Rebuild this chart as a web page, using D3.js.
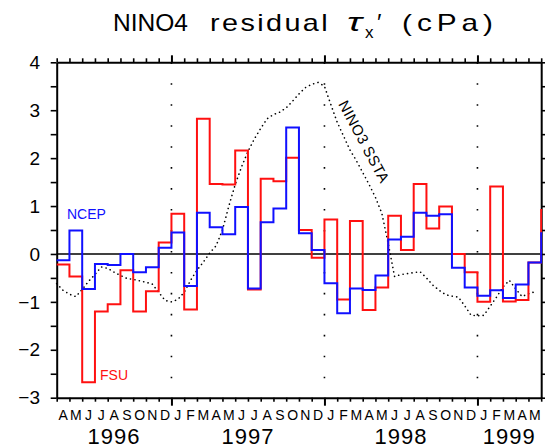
<!DOCTYPE html>
<html>
<head>
<meta charset="utf-8">
<script src="https://cdn.jsdelivr.net/npm/d3@7"></script>
<style>
  body { margin: 0; background: #fff; }
  svg { display: block; font-family: "Liberation Sans", Arial, sans-serif; }
</style>
</head>
<body>
<div id="main"></div>
<script>
// month letters, Apr 1996 .. May 1999
const monthLabels = ['A','M','J','J','A','S','O','N','D',
  'J','F','M','A','M','J','J','A','S','O','N','D',
  'J','F','M','A','M','J','J','A','S','O','N','D',
  'J','F','M','A','M'];
const years = ['1996', '1997', '1998', '1999'];
const yearStart = [0, 9, 21, 33];   // month index where each year begins
const yearEnd = [9, 21, 33, 38];

// monthly residual tau_x (cPa), Apr 1996 .. Jun 1999
const fsu = [-0.22, -0.47, -2.68, -1.20, -1.05, -0.34, -1.20, -0.78, 0.24,
  0.84, -1.16, 2.82, 1.46, 1.45, 2.16, -0.74, 1.57, 1.52, 2.01, 0.50, -0.08,
  0.72, -0.95, 0.69, -1.17, -0.70, 0.80, 0.08, 1.46, 0.53, 0.99, 0.00, -0.38,
  -1.00, 1.41, -0.99, -0.96, -0.18, 0.92];
const ncep = [-0.13, 0.49, -0.73, -0.21, -0.23, 0.00, -0.38, -0.28, 0.13,
  0.45, -0.67, 0.86, 0.56, 0.41, 0.98, -0.72, 0.66, 0.95, 2.64, 0.43, 0.08,
  -0.61, -1.24, -0.72, -0.75, -0.45, 0.30, 0.36, 0.86, 0.80, 0.83, -0.29, -0.70,
  -0.87, -0.76, -0.92, -0.64, -0.18, 0.43];

// NINO3 SSTA, every half month from 1 Apr 1996
const nino3 = [-0.62, -0.76, -0.84, -0.89, -0.74, -0.57, -0.43, -0.27, -0.30, -0.38,
  -0.45, -0.51, -0.53, -0.56, -0.59, -0.63, -0.80, -0.97, -1.00, -0.95,
  -0.80, -0.55, -0.34, -0.17, 0.02, 0.17, 0.50, 1.00, 1.45, 1.82,
  2.14, 2.40, 2.62, 2.82, 2.91, 2.96, 3.05, 3.19, 3.34, 3.47,
  3.54, 3.58, 3.50, 3.12, 2.75, 2.46, 2.17, 1.95, 1.70, 1.45,
  1.18, 0.85, 0.22, -0.47, -0.43, -0.41, -0.39, -0.37, -0.50, -0.65,
  -0.76, -0.85, -0.88, -0.90, -1.08, -1.28, -1.29, -1.28, -1.09, -0.90,
  -0.69, -0.55, -0.73, -0.89, -0.83, -0.79];

const w = 545, h = 448;
const padL = 56.7, padR = 541.2, padT = 62.3, padB = 397.7;

const svg = d3.select('#main').append('svg')
  .attr('width', w).attr('height', h);

const x = d3.scaleLinear().domain([0, 38]).range([padL, padR]);
const y = d3.scaleLinear().domain([-3, 4]).range([padB, padT]);

// title, word by word (the original font is wide)
const titleWords = [
  { t: 'NINO4', x: 113, len: 75, ls: 0 },
  { t: 'residual', x: 210, len: 120, ls: 2 },
  { t: '(cPa)', x: 402, len: 96, ls: 4 }
];
svg.selectAll('.tw')
  .data(titleWords)
  .enter().append('text')
  .attr('x', d => d.x).attr('y', 30.5)
  .attr('font-size', 24)
  .attr('letter-spacing', d => d.ls)
  .attr('textLength', d => d.len)
  .attr('lengthAdjust', 'spacingAndGlyphs')
  .text(d => d.t);
svg.append('text').attr('x', 347).attr('y', 30.5)
  .attr('font-size', 25).attr('font-style', 'italic')
  .attr('textLength', 15).attr('lengthAdjust', 'spacingAndGlyphs')
  .text('τ');
svg.append('text').attr('x', 365).attr('y', 38)
  .attr('font-size', 17)
  .text('x');
svg.append('text').attr('x', 377).attr('y', 31)
  .attr('font-size', 24)
  .text('′');

// dotted January lines
svg.selectAll('.jan')
  .data(yearStart.slice(1))
  .enter().append('line')
  .attr('x1', d => x(d)).attr('x2', d => x(d))
  .attr('y1', padT).attr('y2', padB)
  .attr('stroke', '#000').attr('stroke-width', 1.6)
  .attr('stroke-dasharray', '1.6 19.36');

// zero line
svg.append('line')
  .attr('x1', padL).attr('x2', padR)
  .attr('y1', y(0)).attr('y2', y(0))
  .attr('stroke', '#000').attr('stroke-width', 1.5);

// NINO3 SSTA dotted curve
const ninoLine = d3.line()
  .x((d, i) => x(i * 0.5))
  .y(d => y(d));
svg.append('path')
  .datum(nino3)
  .attr('d', ninoLine)
  .attr('fill', 'none')
  .attr('stroke', '#000')
  .attr('stroke-width', 1.6)
  .attr('stroke-linecap', 'round')
  .attr('stroke-dasharray', '0.1 4.4');

svg.append('text')
  .attr('transform', 'translate(338,104) rotate(62)')
  .attr('font-size', 15)
  .attr('letter-spacing', 0.5)
  .attr('textLength', 91)
  .attr('lengthAdjust', 'spacingAndGlyphs')
  .text('NINO3 SSTA');

// axes
const monthTicks = d3.range(0, 39);
const axisB = d3.axisBottom(x).tickValues(monthTicks).tickSize(4).tickSizeOuter(0).tickFormat('');
const axisT = d3.axisTop(x).tickValues(monthTicks).tickSize(4).tickSizeOuter(0).tickFormat('');
const axisL = d3.axisLeft(y).tickValues(d3.range(-3, 4.01, 0.5)).tickSize(6).tickSizeOuter(0).tickFormat('');
const axisR = d3.axisRight(y).tickValues(d3.range(-3, 4.01, 0.5)).tickSize(5).tickSizeOuter(0).tickFormat('');

const gB = svg.append('g').attr('transform', 'translate(0,' + padB + ')').call(axisB);
const gT = svg.append('g').attr('transform', 'translate(0,' + padT + ')').call(axisT);
const gL = svg.append('g').attr('transform', 'translate(' + padL + ',0)').call(axisL);
const gR = svg.append('g').attr('transform', 'translate(' + padR + ',0)').call(axisR);

[gB, gT, gL, gR].forEach(g => {
  g.select('.domain').attr('stroke-width', 2);
  g.selectAll('.tick line').attr('stroke-width', 1.6);
});
// longer January ticks
gB.selectAll('.tick').filter(d => yearStart.indexOf(d) > 0)
  .select('line').attr('y2', 8).attr('stroke-width', 2);
gT.selectAll('.tick').filter(d => yearStart.indexOf(d) > 0)
  .select('line').attr('y2', -7).attr('stroke-width', 2);

// y tick labels
svg.selectAll('.ylab')
  .data(d3.range(-3, 5))
  .enter().append('text')
  .attr('x', 40).attr('y', d => y(d))
  .attr('dy', '0.35em')
  .attr('text-anchor', 'end')
  .attr('font-size', 19)
  .text(d => d < 0 ? '−' + Math.abs(d) : d);

// month letters
svg.selectAll('.mlab')
  .data(monthLabels)
  .enter().append('text')
  .attr('x', (d, i) => x(i + 0.5)).attr('y', 420)
  .attr('text-anchor', 'middle')
  .attr('font-size', 14)
  .text(d => d);

// year labels
svg.selectAll('.ylabel')
  .data(years)
  .enter().append('text')
  .attr('x', (d, i) => x((yearStart[i] + yearEnd[i]) / 2)).attr('y', 444)
  .attr('text-anchor', 'middle')
  .attr('font-size', 22)
  .attr('letter-spacing', 1)
  .text(d => d);

// step series
svg.append('clipPath').attr('id', 'plot')
  .append('rect').attr('x', padL - 1).attr('y', 0)
  .attr('width', padR - padL + 2).attr('height', h);

const stepLine = d3.line()
  .x(d => x(d[0]))
  .y(d => y(d[1]))
  .curve(d3.curveStepAfter);

const toPts = arr => arr.map((v, i) => [i, v]).concat([[arr.length, arr[arr.length - 1]]]);

svg.append('path')
  .datum(toPts(fsu))
  .attr('d', stepLine)
  .attr('clip-path', 'url(#plot)')
  .attr('fill', 'none').attr('stroke', '#ff1010').attr('stroke-width', 2);

svg.append('path')
  .datum(toPts(ncep))
  .attr('d', stepLine)
  .attr('clip-path', 'url(#plot)')
  .attr('fill', 'none').attr('stroke', '#1010ff').attr('stroke-width', 2);

svg.append('text').attr('x', 67).attr('y', 219)
  .attr('font-size', 14).attr('fill', '#1010ff').text('NCEP');
svg.append('text').attr('x', 100).attr('y', 380)
  .attr('font-size', 14).attr('fill', '#ff1010').text('FSU');
</script>
</body>
</html>
